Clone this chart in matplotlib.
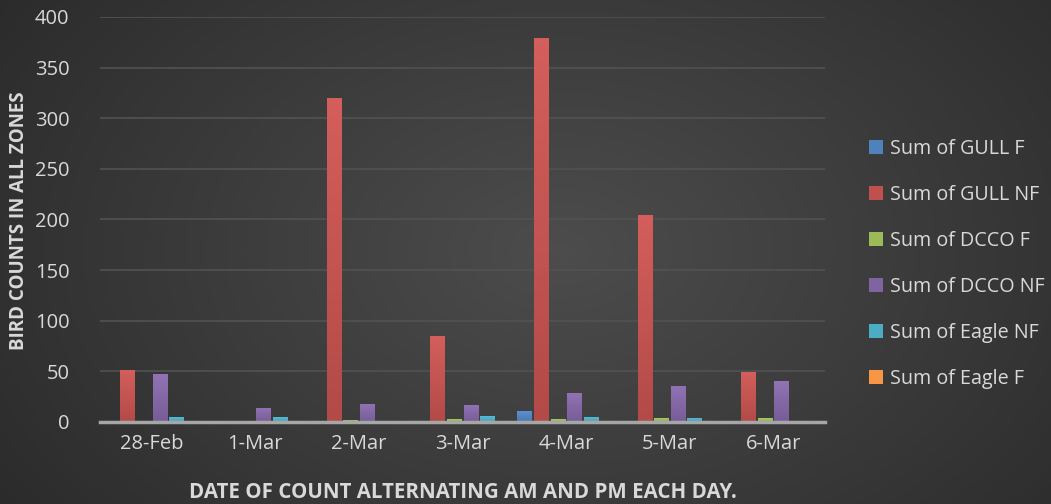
import numpy as np
import matplotlib
matplotlib.use("Agg")
import matplotlib.pyplot as plt
from matplotlib.colors import LinearSegmentedColormap, to_rgb

plt.rcParams['font.family'] = ['Open Sans', 'DejaVu Sans']

dates = ['28-Feb', '1-Mar', '2-Mar', '3-Mar', '4-Mar', '5-Mar', '6-Mar']
gull_f = [0, 0, 0, 1, 11, 0, 0]
gull_nf = [51, 0, 320, 85, 379, 204, 49]
dcco_f = [0, 0, 2, 3, 3, 4, 4]
dcco_nf = [47, 14, 18, 17, 29, 36, 40]
eagle_nf = [5, 5, 0, 6, 5, 4, 0]
eagle_f = [0, 0, 0, 0, 1, 0, 0]

series = [
    ('Sum of GULL F', gull_f, '#4f81bd'),
    ('Sum of GULL NF', gull_nf, '#c0504d'),
    ('Sum of DCCO F', dcco_f, '#9bbb59'),
    ('Sum of DCCO NF', dcco_nf, '#8064a2'),
    ('Sum of Eagle NF', eagle_nf, '#4bacc6'),
    ('Sum of Eagle F', eagle_f, '#f79646'),
]

fig = plt.figure(figsize=(10.51, 5.04), dpi=100)

# dark radial background
bg = fig.add_axes([0, 0, 1, 1], zorder=-10)
yy, xx = np.mgrid[0:504, 0:1051]
r = np.sqrt(((xx - 560) / 620.0) ** 2 + ((yy - 250) / 420.0) ** 2)
shade = np.clip(0.30 - 0.12 * r, 0.17, 0.30)
bg.imshow(np.dstack([shade] * 3), aspect='auto', extent=[0, 1, 0, 1])
bg.axis('off')

ax = fig.add_axes([0.0951, 0.1627, 0.690, 0.8036])
ax.patch.set_alpha(0)
x = np.arange(len(dates))
pitch = 0.16
width = 0.14

handles = []
for i, (name, vals, col) in enumerate(series):
    pos = x + (i - 2.5) * pitch
    bars = ax.bar(pos, vals, width, color=col, label=name, zorder=3)
    handles.append(bars)
    # slight vertical gradient, lighter at the top
    c = np.array(to_rgb(col))
    cmap = LinearSegmentedColormap.from_list('g', [c * 0.93, np.minimum(c * 1.05 + 0.04, 1)])
    for b in bars:
        h = b.get_height()
        if h <= 0:
            continue
        im = ax.imshow(np.linspace(0, 1, 50).reshape(-1, 1), cmap=cmap, origin='lower',
                       extent=[b.get_x(), b.get_x() + b.get_width(), 0, h],
                       aspect='auto', zorder=3.5)
        im.set_clip_path(b)

ax.set_xlim(-0.5, len(dates) - 0.5)
ax.set_ylim(0, 400)
ax.set_yticks(range(0, 401, 50))
ax.set_xticks(x)
ax.set_xticklabels(dates)
ax.grid(axis='y', color='#525252', linewidth=1.2, zorder=0)
for s in ['top', 'right', 'left']:
    ax.spines[s].set_visible(False)
ax.spines['bottom'].set_color('#a6a6a6')
ax.spines['bottom'].set_linewidth(2.5)
ax.spines['bottom'].set_zorder(5)
ax.tick_params(axis='both', length=0, colors='#d9d9d9', labelsize=14.5)
ax.tick_params(axis='x', pad=9)
ax.tick_params(axis='y', pad=22)

fig.text(0.018, 0.563, 'BIRD COUNTS IN ALL ZONES', rotation=90, color='#d9d9d9',
         fontsize=13.5, fontweight='bold', ha='center', va='center')
fig.text(0.44, 0.022, 'DATE OF COUNT ALTERNATING AM AND PM EACH DAY.', color='#d9d9d9',
         fontsize=14.8, fontweight='bold', ha='center', va='center')

leg = fig.legend(handles=handles, loc='center left', bbox_to_anchor=(0.81, 0.476),
                 frameon=False, fontsize=14.2, labelcolor='#d9d9d9',
                 handlelength=0.7, handleheight=0.7, handletextpad=0.35,
                 labelspacing=1.32)

fig.savefig('out.png', dpi=100)
